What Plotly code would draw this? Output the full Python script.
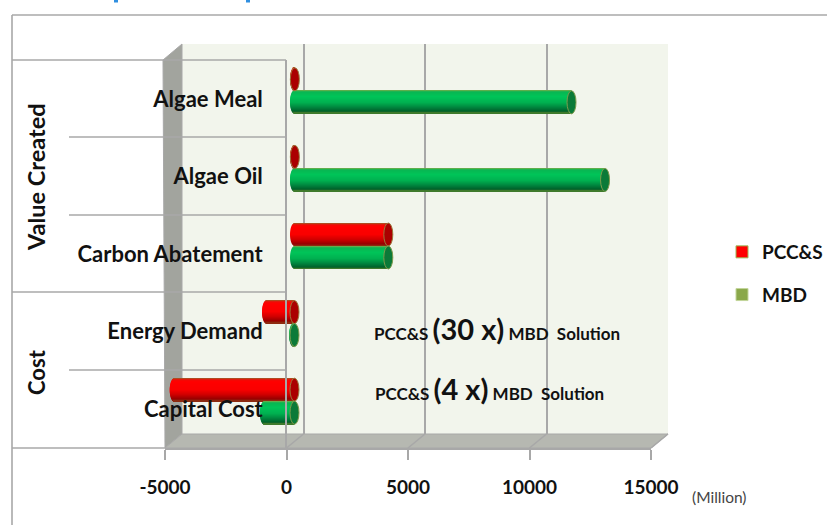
import numpy as np
import plotly.graph_objects as go

W, H = 827, 525

categories = ["Algae Meal", "Algae Oil", "Carbon Abatement", "Energy Demand", "Capital Cost"]
pcc_values = [15, 15, 3860, -1150, -4950]
mbd_values = [11400, 12780, 3860, -38, -1240]
x_ticks = [-5000, 0, 5000, 10000, 15000]
x_tick_labels = ["-5000", "0", "5000", "10000", "15000"]
x_range = [-5000, 15000]
bar_x_range = [-6000, 15000]

LINE = "#a8a8a8"
LABEL_FONT = "Lato"
BANDS = 23


def ramp(stops):
    """Interpolate (position, rgb) stops into one colour per shading band."""
    pos = [s[0] for s in stops]
    out = []
    for t in np.linspace(0, 1, BANDS):
        rgb = [int(round(np.interp(t, pos, [s[1][c] for s in stops]))) for c in range(3)]
        out.append(f"rgb({rgb[0]},{rgb[1]},{rgb[2]})")
    return out


RED_RAMP = ramp([(0, (176, 74, 32)), (0.06, (240, 10, 6)), (0.15, (255, 0, 0)), (0.5, (250, 0, 0)),
                 (0.72, (210, 0, 0)), (0.93, (150, 0, 0)), (1, (142, 42, 16))])
GREEN_RAMP = ramp([(0, (95, 174, 76)), (0.06, (8, 182, 82)), (0.28, (0, 196, 88)), (0.55, (0, 176, 80)),
                   (0.78, (0, 130, 60)), (0.94, (0, 96, 42)), (1, (63, 122, 44))])


def px(x):
    return x / W


def py(y):
    return 1 - y / H


# Horizontal frames of the pseudo-3D box, in pixels of the page
FRONT = (165, 651)
BACK = (182, 668)
FRONT_Y = (60, 448)
BACK_Y = (44, 434)
BAR_Y = (52, 440)

# The cylinder plane sits 8 px behind the front plane and runs a little past -5000
px_per_unit = (FRONT[1] - FRONT[0]) / (x_range[1] - x_range[0])
BAR_PLANE = (FRONT[0] + 8 - (x_range[0] - bar_x_range[0]) * px_per_unit, FRONT[1] + 8)

cat_px = (BAR_Y[1] - BAR_Y[0]) / len(categories)
bar_h = 23 / cat_px
cap_rx = 4.5 / px_per_unit


def front_x(v):
    return FRONT[0] + (v - x_range[0]) * px_per_unit


def back_x(v):
    return BACK[0] + (v - x_range[0]) * px_per_unit


fig = go.Figure()

# Hidden-series entries that supply the legend
fig.add_trace(go.Bar(name="PCC&S", y=categories, x=[None] * 5, orientation="h",
                     xaxis="x3", yaxis="y3", legendgroup="a",
                     marker=dict(color="#ff0000", line=dict(color="#9bbb59", width=1))))
fig.add_trace(go.Bar(name="MBD", y=categories, x=[None] * 5, orientation="h",
                     xaxis="x3", yaxis="y3", legendgroup="b",
                     marker=dict(color="#8aa84a", line=dict(color="#c3d69b", width=1))))

# Empty trace that keeps the back wall's gridded subplot alive
fig.add_trace(go.Scatter(x=x_ticks, y=[0] * 5, mode="none", showlegend=False,
                         hoverinfo="skip", xaxis="x", yaxis="y"))


def cylinder(values, colours, side):
    """Stack thin bars across the cylinder so the shading reads as a gradient."""
    n = len(colours)
    band = bar_h / n
    for i, colour in enumerate(colours):
        t = (i + 0.5) / n * 2 - 1
        inset = cap_rx * (1 - np.sqrt(1 - t * t))
        lefts, widths = [], []
        for v in values:
            low = min(v, 0)
            high = max(v, 0)
            start = low - cap_rx + inset
            lefts.append(start)
            widths.append(high - start)
        offset = (-bar_h if side == "top" else 0) + i * band
        fig.add_trace(go.Bar(y=categories, x=widths, base=lefts, orientation="h",
                             width=band, offset=offset,
                             marker=dict(color=colour, line=dict(width=0)),
                             showlegend=False, hoverinfo="skip",
                             xaxis="x2", yaxis="y2"))


cylinder(pcc_values, RED_RAMP, "top")
cylinder(mbd_values, GREEN_RAMP, "bottom")

shapes = []


def poly(points, fill):
    path = "M" + "L".join(f"{px(a)},{py(b)}" for a, b in points) + "Z"
    shapes.append(dict(type="path", path=path, xref="paper", yref="paper",
                       fillcolor=fill, line=dict(color=LINE, width=1), layer="below"))


def rule(x0, y0, x1, y1, layer="above", colour=LINE):
    shapes.append(dict(type="line", xref="paper", yref="paper", layer=layer,
                       x0=px(x0), y0=py(y0), x1=px(x1), y1=py(y1),
                       line=dict(color=colour, width=1.6)))


# Back wall, side wall and floor
shapes.append(dict(type="rect", xref="paper", yref="paper", layer="below",
                   x0=px(BACK[0]), x1=px(BACK[1]), y0=py(BACK_Y[1]), y1=py(BACK_Y[0]),
                   fillcolor="#f2f5ec", line=dict(width=0)))
poly([(FRONT[0] - 2, FRONT_Y[0]), (BACK[0], BACK_Y[0]), (BACK[0], BACK_Y[1]), (FRONT[0], FRONT_Y[1])], "#a2a49e")
poly([(BACK[0], BACK_Y[1]), (BACK[1], BACK_Y[1]), (FRONT[1], FRONT_Y[1]), (FRONT[0], FRONT_Y[1])], "#b6b8b1")

# Gridline continuations across the floor
for v in x_ticks[1:]:
    rule(front_x(v), FRONT_Y[1], back_x(v), BACK_Y[1], layer="below")

# Cylinder end caps, placed from the series values
for values, cap, rim, y_off in ((pcc_values, "#ab0000", "#9a7a3c", -bar_h / 2),
                                (mbd_values, "#0b7a38", "#7f9a4c", bar_h / 2)):
    for i, v in enumerate(values):
        end = max(v, 0)
        shapes.append(dict(type="circle", xref="x2", yref="y2", layer="above",
                           x0=end - cap_rx, x1=end + cap_rx,
                           y0=i + y_off - bar_h / 2, y1=i + y_off + bar_h / 2,
                           fillcolor=cap, line=dict(color=rim, width=1)))

# Two-level category frame on the left
rule(12, 15, 827, 15)
rule(12, 15, 12, 525)
rule(12, 60, 286, 60)
rule(12, 292, 286, 292)
rule(12, 448, 165, 448)
rule(69, 137, 286, 137)
rule(69, 215, 286, 215)
rule(69, 370, 286, 370)

# Tails of the heading that runs off the top edge
for x_mark in (116, 248):
    shapes.append(dict(type="rect", xref="paper", yref="paper", layer="above",
                       x0=px(x_mark - 2), x1=px(x_mark + 2), y0=py(2.5), y1=py(0),
                       fillcolor="#2f8fe0", line=dict(width=0)))

annotations = [
    dict(text="Value Created", x=px(36), y=py(177), textangle=-90,
         font=dict(size=23.5, family=LABEL_FONT, color="#111111", weight="bold")),
    dict(text="Cost", x=px(36), y=py(372), textangle=-90,
         font=dict(size=22, family=LABEL_FONT, color="#111111", weight="bold")),
    dict(text="(Million)", x=px(719), y=py(497),
         font=dict(size=15.5, family=LABEL_FONT, color="#444444")),
    dict(text="PCC&S <span style='font-size:29px'>(30 x)</span> MBD  Solution",
         x=px(496.5), y=py(328),
         font=dict(size=17, family=LABEL_FONT, color="#111111", weight="bold")),
    dict(text="PCC&S <span style='font-size:29px'>(4 x)</span> MBD  Solution",
         x=px(489), y=py(388),
         font=dict(size=17, family=LABEL_FONT, color="#111111", weight="bold")),
]
for a in annotations:
    a.update(xref="paper", yref="paper", showarrow=False, xanchor="center", yanchor="middle")

fig.update_layout(
    width=W, height=H, autosize=False,
    margin=dict(l=0, r=0, t=0, b=0, pad=0, autoexpand=False),
    paper_bgcolor="white", plot_bgcolor="rgba(0,0,0,0)",
    barmode="overlay", shapes=shapes, annotations=annotations,
    legend=dict(x=px(722), y=py(233), xanchor="left", yanchor="top",
                bgcolor="rgba(0,0,0,0)", traceorder="grouped", tracegroupgap=15,
                font=dict(size=19, family=LABEL_FONT, color="#111111", weight="bold")),
    # back wall with its gridlines
    xaxis=dict(domain=[px(BACK[0]), px(BACK[1])], range=x_range, tickvals=x_ticks,
               showgrid=True, gridcolor=LINE, gridwidth=2, zeroline=False,
               showticklabels=False, ticks="", anchor="y"),
    yaxis=dict(domain=[py(BACK_Y[1]), py(BACK_Y[0])], range=[0, 1], showgrid=False,
               zeroline=False, showticklabels=False, ticks="", anchor="x"),
    # plane that carries the cylinders
    xaxis2=dict(domain=[px(BAR_PLANE[0]), px(BAR_PLANE[1])], range=bar_x_range, showgrid=False,
                zeroline=False, showticklabels=False, ticks="", anchor="y2"),
    yaxis2=dict(domain=[py(BAR_Y[1]), py(BAR_Y[0])], type="category",
                categoryorder="array", categoryarray=categories,
                range=[len(categories) - 0.5, -0.5], showgrid=False, zeroline=False,
                showticklabels=False, ticks="", anchor="x2"),
    # front plane: value ticks and category labels
    xaxis3=dict(domain=[px(FRONT[0]), px(FRONT[1])], range=x_range, tickvals=x_ticks,
                ticktext=x_tick_labels,
                showgrid=False, zeroline=False, showline=True, linecolor=LINE, linewidth=1.6,
                ticks="outside", ticklen=10, tickcolor=LINE, tickwidth=1.6,
                ticklabelstandoff=11, anchor="y3",
                tickfont=dict(size=19, family=LABEL_FONT, color="#111111", weight="bold")),
    yaxis3=dict(domain=[py(FRONT_Y[1]), py(FRONT_Y[0])], type="category",
                categoryorder="array", categoryarray=categories,
                range=[len(categories) - 0.5, -0.5], showgrid=False, zeroline=False,
                showline=True, linecolor=LINE, linewidth=1.6, ticks="",
                anchor="free", position=px(286), ticklabelstandoff=18,
                tickfont=dict(size=22, family=LABEL_FONT, color="#111111", weight="bold")),
)

fig.write_html("out.html")
